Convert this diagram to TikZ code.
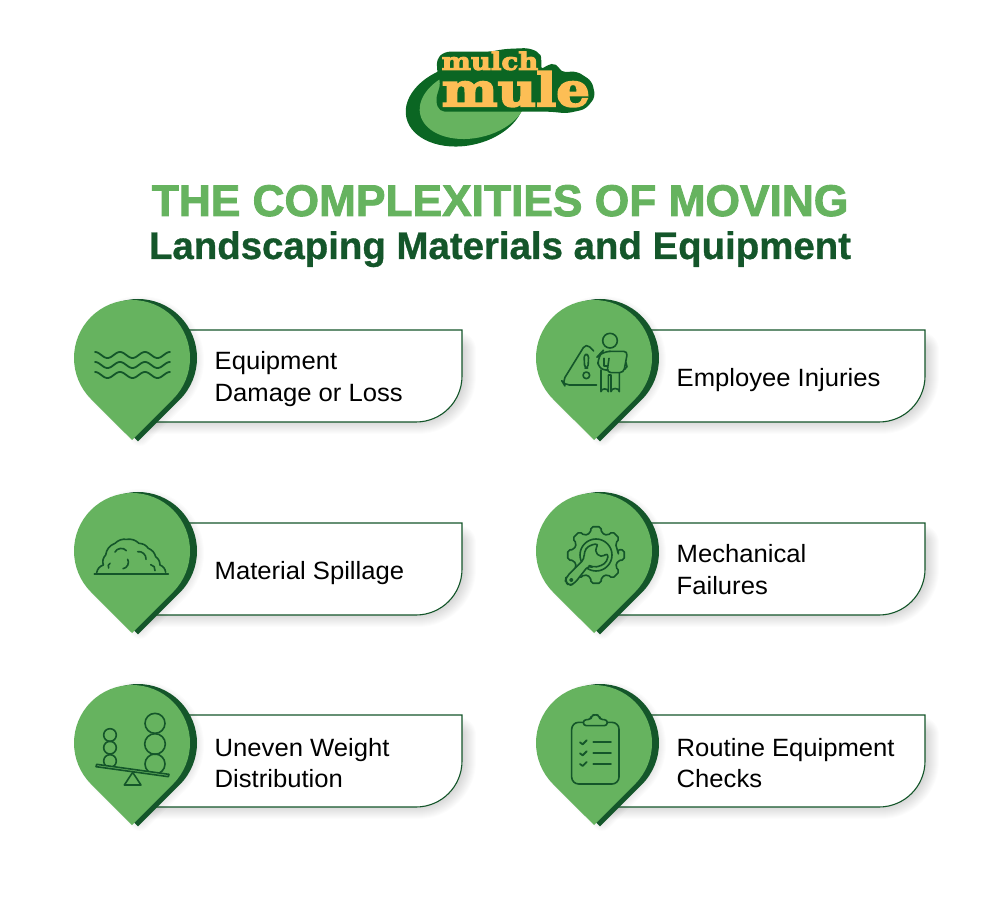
\documentclass[tikz,border=0pt]{standalone}
\usepackage{fontspec}
\setmainfont{Liberation Sans}
\newfontfamily\titlefont[FakeBold=2]{Liberation Sans Bold}
\newfontfamily\subfont[FakeBold=0.8]{Liberation Sans Bold}
\newfontfamily\cardfont[FakeStretch=1.025]{Liberation Sans}
\newfontfamily\logofont[FakeBold=4,FakeStretch=1.15]{DejaVu Serif Bold}
\definecolor{pinlight}{HTML}{66B35F}
\definecolor{pindark}{HTML}{14562A}
\definecolor{logodark}{HTML}{0B6623}
\definecolor{logoyellow}{HTML}{FDBE55}
\tikzset{
  x=1pt,y=1pt,
  pinface/.style={fill=pinlight,draw=none},
  pinback/.style={fill=pindark,draw=none},
  cardbox/.style={fill=white,draw=pindark,line width=1.1pt},
  cardlabel/.style={anchor=west,inner sep=0pt,align=left,text=black,font=\cardfont\fontsize{25}{31.5}\selectfont},
  icon/.style={draw=pindark,line width=1.8pt,line cap=round,line join=round},
  thinicon/.style={draw=pindark,line width=1.6pt,line cap=round,line join=round},
  softlayer/.style={fill=black,draw=black,line join=round},
}
% local frame: origin at pin centre, y up
\newcommand{\pincard}[6]{%
  \begin{scope}[shift={(#2,900-#3)}]
    \foreach \w in {2,4,...,36}{
      \path[softlayer,opacity=.013,line width=\w]
        (4,8) -- (#4-4,8) -- (#4-4,-18) arc[start angle=0,end angle=-90,radius=40] -- (4,-58) -- cycle;
    }
    \path[cardbox] (0,28) -- (#4,28) -- (#4,-18) arc[start angle=0,end angle=-90,radius=46] -- (0,-64) -- cycle;
    \foreach \w in {2,4,...,20}{
      \path[softlayer,opacity=.012,line width=\w]
        (8,-2) ++(225:54) arc[start angle=225,end angle=-45,radius=54] -- (8,-78) -- cycle;
    }
    \path[pinback] (6,0) ++(225:59) arc[start angle=225,end angle=-45,radius=59] -- (6,-83.4) -- cycle;
    \path[pinface] (225:58) arc[start angle=225,end angle=-45,radius=58] -- (0,-82) -- cycle;
    \node[cardlabel] (#1) at (82.5,#6) {#5};
  \end{scope}
}
\begin{document}
\begin{tikzpicture}
\useasboundingbox (0,0) rectangle (1000,900);
\fill[white] (0,0) rectangle (1000,900);

% logo
\fill[logodark,rotate around={12:(465,795)}] (465,795) ellipse[x radius=60,y radius=40.5];
\fill[pinlight,rotate around={12:(473,797)}] (473,797) ellipse[x radius=54,y radius=35];
\begin{scope}[shift={(390,860)},xscale=1/3,yscale=-1/3]
  \fill[logodark,draw=logodark,line width=2pt,line join=round,rounded corners=5pt]
    (143,58) -- (165,38) -- (300,38) -- (345,30) -- (415,27) -- (447,40) -- (452,60) -- (450,95)
    -- (472,78) -- (498,72) -- (512,100) -- (560,97) -- (603,125) -- (613,170) -- (585,205)
    -- (530,217) -- (480,212) -- (150,212) -- (140,180) -- (155,130) -- (145,100) -- cycle;
\end{scope}
\node[inner sep=0pt,anchor=south west,align=left,text=logoyellow,font=\logofont] (logo) at (441.5,793)
  {\fontsize{24}{36}\selectfont mulch\\\fontsize{46}{36}\selectfont mule};

% title
\node[inner sep=0pt,anchor=base,text=pinlight,font=\titlefont\fontsize{44.3}{44.3}\selectfont] (title) at (500,684) {THE COMPLEXITIES OF MOVING};
\node[inner sep=0pt,anchor=base,text=pindark,font=\subfont\fontsize{38.4}{38.4}\selectfont] (subtitle) at (500,641) {Landscaping Materials and Equipment};

% cards
\pincard{c1}{132}{358}{330}{Equipment\\Damage or Loss}{-21}
\pincard{c2}{594}{358}{331}{Employee Injuries}{-22.5}
\pincard{c3}{132}{551}{330}{Material Spillage}{-22}
\pincard{c4}{594}{551}{331}{Mechanical\\Failures}{-18.5}
\pincard{c5}{132}{743}{330}{Uneven Weight\\Distribution}{-20}
\pincard{c6}{594}{743}{331}{Routine Equipment\\Checks}{-20}

% waves
\begin{scope}[shift={(132,542)}]
  \foreach \d in {3,-7,-17}{
    \draw[icon] plot[domain=-37:38,samples=80,smooth] (\x,{\d+3*cos(14.4*(\x+37))});
  }
\end{scope}

% person and warning
\begin{scope}[shift={(525,610)},xscale=1/3,yscale=-1/3]
  \draw[thinicon] (255,152) circle[radius=22];
  \draw[thinicon,rounded corners=5pt] (206,183) -- (183,160) -- (112,275) -- (118,285) -- (215,285);
  \draw[thinicon,rounded corners=3pt] (177,193) -- (191,193) -- (189,234) -- (179,234) -- cycle;
  \draw[thinicon] (184,256) circle[radius=10];
  \draw[thinicon,rounded corners=4pt] (252,184) -- (308,184) -- (296,248) -- (246,248) -- (252,205);
  \draw[thinicon,rounded corners=8pt] (252,184) -- (232,184) -- (219,198) -- (219,240) -- (246,240);
  \draw[thinicon] (228,240) -- (228,305) to[out=-90,in=-90,looseness=1.3] (250,305) -- (250,255) -- (258,255) -- (258,305) to[out=-90,in=-90,looseness=1.3] (283,305) -- (283,248);
  \draw[thinicon] (237,205) -- (237,228) -- (247,228);
  \draw[thinicon] (303,218) -- (306,230) -- (299,238);
\end{scope}

% mulch pile
\begin{scope}[shift={(65,410)},xscale=1/3,yscale=-1/3]
  \draw[thinicon] (88,252) -- (310,252);
  \draw[thinicon] (95,248) to[bend right=30] (115,225) to[bend right=30] (122,195) to[bend right=30] (150,160)
     to[bend right=25] (185,148) to[bend right=25] (222,160) to[bend right=25] (250,175)
     to[bend right=25] (272,200) to[bend right=25] (285,225) to[bend right=30] (302,247);
  \draw[thinicon] (150,186) to[bend right=60] (184,182);
  \draw[thinicon] (218,185) to[bend right=55] (243,208);
  \draw[thinicon] (188,208) to[bend left=-60] (174,236);
  \draw[thinicon] (135,220) to[bend right=-50] (131,234);
  \draw[thinicon] (257,224) to[bend right=50] (270,242);
\end{scope}

% gear and wrench
\begin{scope}[shift={(530,410)},xscale=1/3,yscale=-1/3]
  \draw[thinicon,rounded corners=2pt] (198+68,195)
    \foreach \a in {0,45,...,315}{
      -- ({198+68*cos(\a-14)},{195+68*sin(\a-14)})
      -- ({198+86*cos(\a-10)},{195+86*sin(\a-10)})
      -- ({198+86*cos(\a+10)},{195+86*sin(\a+10)})
      -- ({198+68*cos(\a+14)},{195+68*sin(\a+14)})
    } -- cycle;
  \draw[thinicon] (198,195) circle[radius=48];
  \draw[thinicon,fill=pinlight,rounded corners=4pt]
    (108,262) -- (163,207) -- (162,185) -- (175,167) -- (207,160) -- (193,182) -- (212,203) -- (235,188)
    -- (232,214) -- (214,228) -- (188,232) -- (176,226) -- (132,282) -- (116,287) -- (106,274) -- cycle;
  \draw[thinicon] (124,270) circle[radius=4];
\end{scope}

% balance
\begin{scope}[shift={(65,215)},xscale=1/3,yscale=-1/3]
  \draw[thinicon] (135,150) circle[radius=19];
  \draw[thinicon] (135,188) circle[radius=19];
  \draw[thinicon] (135,228) circle[radius=19];
  \draw[thinicon] (270,115) circle[radius=30];
  \draw[thinicon] (270,177) circle[radius=31];
  \draw[thinicon] (270,237) circle[radius=30];
  \draw[thinicon,fill=pinlight] (95,238) -- (312,268) -- (310,275) -- (93,245) -- cycle;
  \draw[thinicon] (203,262) -- (228,300) -- (178,300) -- cycle;
\end{scope}

% clipboard
\begin{scope}[shift={(530,215)},xscale=1/3,yscale=-1/3]
  \draw[thinicon,rounded corners=7pt] (160,112) -- (125,112) -- (125,297) -- (267,297) -- (267,112) -- (232,112);
  \draw[thinicon,rounded corners=3pt] (160,104) -- (182,104) -- (184,92) -- (196,88) -- (208,92) -- (210,104) -- (232,104) -- (232,122) -- (160,122) -- cycle;
  \foreach \y in {172,205,237}{
    \draw[icon] (150,\y) -- (158,\y+6) -- (170,\y-6);
    \draw[icon] (190,\y) -- (243,\y);
  }
\end{scope}
\end{tikzpicture}
\end{document}
